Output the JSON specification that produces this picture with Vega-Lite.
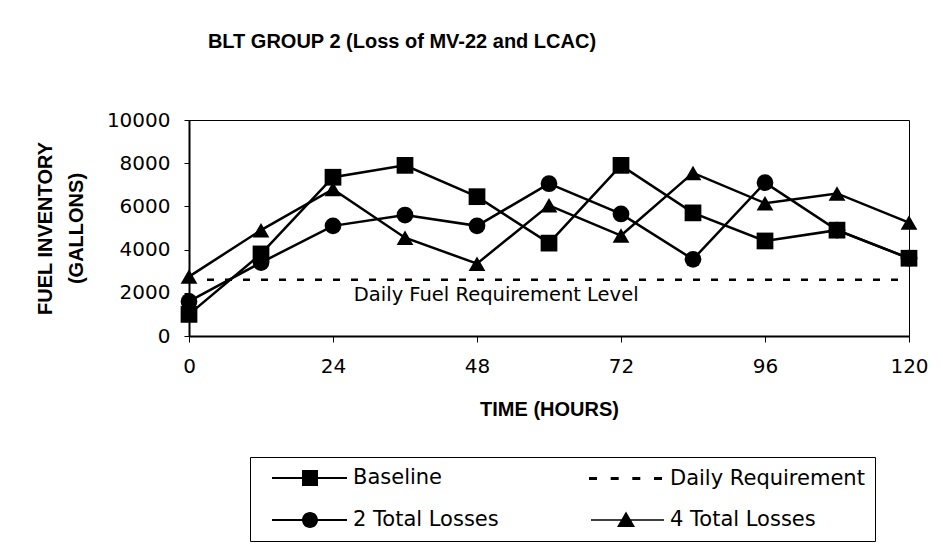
{
  "$schema": "https://vega.github.io/schema/vega-lite/v6.json",
  "width": 720,
  "height": 216,
  "autosize": {"type": "none"},
  "padding": {"left": 189, "top": 120, "right": 34, "bottom": 210},
  "background": "white",
  "title": {
    "text": "BLT GROUP 2 (Loss of MV-22 and LCAC)",
    "font": "Liberation Sans",
    "fontSize": 20,
    "fontWeight": "bold",
    "color": "black",
    "anchor": "middle",
    "dx": -147,
    "offset": 58
  },
  "config": {
    "font": "DejaVu Sans",
    "view": {"fill": "#eeeeee", "stroke": "black", "strokeWidth": 1}
  },
  "datasets": {
    "fuel": [
      {"series": "Baseline", "hours": 0, "gallons": 1000},
      {"series": "Baseline", "hours": 12, "gallons": 3800},
      {"series": "Baseline", "hours": 24, "gallons": 7350},
      {"series": "Baseline", "hours": 36, "gallons": 7900},
      {"series": "Baseline", "hours": 48, "gallons": 6450},
      {"series": "Baseline", "hours": 60, "gallons": 4300},
      {"series": "Baseline", "hours": 72, "gallons": 7900},
      {"series": "Baseline", "hours": 84, "gallons": 5700},
      {"series": "Baseline", "hours": 96, "gallons": 4400},
      {"series": "Baseline", "hours": 108, "gallons": 4900},
      {"series": "Baseline", "hours": 120, "gallons": 3600},
      {"series": "2 Total Losses", "hours": 0, "gallons": 1600},
      {"series": "2 Total Losses", "hours": 12, "gallons": 3400},
      {"series": "2 Total Losses", "hours": 24, "gallons": 5100},
      {"series": "2 Total Losses", "hours": 36, "gallons": 5600},
      {"series": "2 Total Losses", "hours": 48, "gallons": 5100},
      {"series": "2 Total Losses", "hours": 60, "gallons": 7050},
      {"series": "2 Total Losses", "hours": 72, "gallons": 5650},
      {"series": "2 Total Losses", "hours": 84, "gallons": 3550},
      {"series": "2 Total Losses", "hours": 96, "gallons": 7100},
      {"series": "2 Total Losses", "hours": 108, "gallons": 4900},
      {"series": "2 Total Losses", "hours": 120, "gallons": 3600},
      {"series": "4 Total Losses", "hours": 0, "gallons": 2750},
      {"series": "4 Total Losses", "hours": 12, "gallons": 4900},
      {"series": "4 Total Losses", "hours": 24, "gallons": 6800},
      {"series": "4 Total Losses", "hours": 36, "gallons": 4550},
      {"series": "4 Total Losses", "hours": 48, "gallons": 3350},
      {"series": "4 Total Losses", "hours": 60, "gallons": 6050},
      {"series": "4 Total Losses", "hours": 72, "gallons": 4650},
      {"series": "4 Total Losses", "hours": 84, "gallons": 7550},
      {"series": "4 Total Losses", "hours": 96, "gallons": 6150},
      {"series": "4 Total Losses", "hours": 108, "gallons": 6600},
      {"series": "4 Total Losses", "hours": 120, "gallons": 5250}
    ],
    "requirement": [
      {"series": "Daily Requirement", "start": 3, "end": 120, "gallons": 2600}
    ],
    "note": [
      {"label": "Daily Fuel Requirement Level", "hours": 51.2, "gallons": 1900}
    ],
    "legendItems": [
      {"series": "Baseline"},
      {"series": "Daily Requirement"},
      {"series": "2 Total Losses"},
      {"series": "4 Total Losses"}
    ]
  },
  "resolve": {"scale": {"shape": "independent", "strokeWidth": "independent"}, "legend": {"shape": "independent"}},
  "layer": [
    {
      "data": {"name": "requirement"},
      "mark": {"type": "rule", "color": "black", "strokeWidth": 2.5, "strokeDash": [7, 11]},
      "encoding": {
        "x": {
          "field": "start", "type": "quantitative",
          "scale": {"domain": [0, 120], "nice": false},
          "axis": {
            "values": [0, 24, 48, 72, 96, 120],
            "title": "TIME (HOURS)",
            "titleFont": "Liberation Sans",
            "titleFontSize": 20, "titleFontWeight": "bold", "titleColor": "black",
            "titlePadding": 23,
            "labelFontSize": 20, "labelColor": "black", "labelPadding": 14,
            "labelFlush": false,
            "domainColor": "black", "domainWidth": 2, "tickColor": "black", "tickSize": 6,
            "grid": false
          }
        },
        "x2": {"field": "end"},
        "y": {
          "field": "gallons", "type": "quantitative",
          "scale": {"domain": [0, 10000], "nice": false},
          "axis": {
            "values": [0, 2000, 4000, 6000, 8000, 10000],
            "format": "d",
            "title": ["FUEL INVENTORY", "(GALLONS)"],
            "titleFont": "Liberation Sans",
            "titleFontSize": 20, "titleFontWeight": "bold", "titleColor": "black",
            "titleLineHeight": 31,
            "titlePadding": 20,
            "labelFontSize": 20, "labelColor": "black", "labelPadding": 14,
            "labelFlush": false,
            "domainColor": "black", "domainWidth": 2, "tickColor": "black", "tickSize": 5,
            "grid": false
          }
        }
      }
    },
    {
      "data": {"name": "fuel"},
      "mark": {"type": "line", "color": "black"},
      "encoding": {
        "x": {"field": "hours", "type": "quantitative"},
        "y": {"field": "gallons", "type": "quantitative"},
        "detail": {"field": "series"},
        "strokeWidth": {
          "field": "series", "type": "nominal",
          "scale": {"domain": ["Baseline", "2 Total Losses", "4 Total Losses"], "range": [2.5, 2.5, 1.3]},
          "legend": null
        }
      }
    },
    {
      "data": {"name": "fuel"},
      "mark": {"type": "point", "filled": true, "color": "black", "opacity": 1, "size": 280},
      "encoding": {
        "x": {"field": "hours", "type": "quantitative"},
        "y": {"field": "gallons", "type": "quantitative"},
        "shape": {
          "field": "series", "type": "nominal",
          "scale": {"domain": ["Baseline", "2 Total Losses", "4 Total Losses"], "range": ["square", "circle", "triangle-up"]},
          "legend": null
        }
      }
    },
    {
      "data": {"name": "note"},
      "mark": {"type": "text", "fontSize": 19.5, "color": "black", "font": "DejaVu Sans"},
      "encoding": {
        "x": {"field": "hours", "type": "quantitative"},
        "y": {"field": "gallons", "type": "quantitative"},
        "text": {"field": "label"}
      }
    },
    {
      "data": {"name": "legendItems"},
      "transform": [{"filter": "false"}],
      "mark": {"type": "point", "filled": true, "color": "black"},
      "encoding": {
        "shape": {
          "field": "series", "type": "nominal",
          "scale": {
            "domain": ["Baseline", "Daily Requirement", "2 Total Losses", "4 Total Losses"],
            "range": [
              "M0.1,-0.1H7.6V0.1H0.1ZM3.1,-0.8H4.7V0.8H3.1Z",
              "M0.1,-0.15H0.9V0.15H0.1ZM2.27,-0.15H3.07V0.15H2.27ZM4.43,-0.15H5.23V0.15H4.43ZM6.6,-0.15H7.4V0.15H6.6Z",
              "M0.1,-0.1H7.6V0.1H0.1ZM4.7,0A0.8,0.8 0 1,1 3.1,0A0.8,0.8 0 1,1 4.7,0Z",
              "M0.3,-0.065H7.6V0.065H0.3ZM3.8,-0.85L4.7,0.7H2.9Z"
            ]
          },
          "legend": {
            "title": null,
            "orient": "none",
            "legendX": 61,
            "legendY": 337,
            "direction": "horizontal",
            "columns": 2,
            "columnPadding": 78,
            "rowPadding": 19,
            "padding": 10,
            "strokeColor": "black",
            "fillColor": "white",
            "labelFont": "DejaVu Sans",
            "labelFontSize": 21,
            "labelLimit": 400,
            "labelColor": "black",
            "labelOffset": 71,
            "symbolSize": 400,
            "symbolStrokeWidth": 1.5,
            "symbolFillColor": "black",
            "symbolStrokeColor": "black",
            "symbolOpacity": 1
          }
        }
      }
    }
  ]
}
